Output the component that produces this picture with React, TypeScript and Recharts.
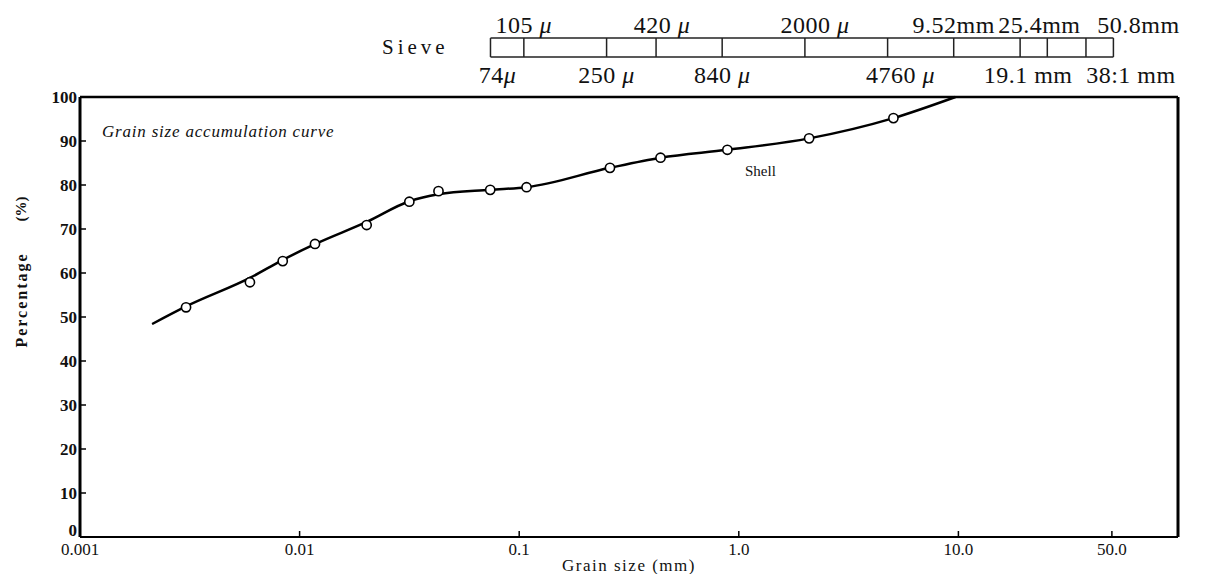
import React from 'react';
import { ComposedChart, Line, Scatter, XAxis, YAxis, ReferenceLine } from 'recharts';

const FONT = '"Liberation Serif", "DejaVu Serif", serif';

// fitted accumulation curve (grain size mm -> %)
const curveSize = [0.00213, 0.00304, 0.006, 0.0084, 0.0118, 0.0202, 0.0316, 0.0429, 0.0738, 0.108, 0.259, 0.44, 0.887, 2.09, 5.06, 9.7];
const curvePct = [48.4, 52.4, 59.0, 63.0, 66.6, 71.6, 76.3, 77.9, 78.9, 79.5, 83.9, 86.2, 88.0, 90.6, 95.2, 100];

// measured samples (open circles)
const sampleSize = [0.00304, 0.00594, 0.00838, 0.01175, 0.0202, 0.0316, 0.0429, 0.0738, 0.108, 0.259, 0.44, 0.887, 2.09, 5.06];
const samplePct = [52.2, 57.9, 62.7, 66.6, 70.9, 76.2, 78.6, 78.9, 79.5, 83.9, 86.2, 88.0, 90.6, 95.2];

const xTicks = [0.001, 0.01, 0.1, 1, 10, 50];
const xTickLabels = ['0.001', '0.01', '0.1', '1.0', '10.0', '50.0'];
const yTicks = [0, 10, 20, 30, 40, 50, 60, 70, 80, 90, 100];

// sieve openings in mm, labels alternate below / above the bar
const sieveSizes = [0.074, 0.105, 0.25, 0.42, 0.84, 2, 4.76, 9.52, 19.1, 25.4, 38.1, 50.8];
const sieveLabels = ['74μ', '105 μ', '250 μ', '420 μ', '840 μ', '2000 μ', '4760 μ', '9.52mm', '19.1 mm', '25.4mm', '38:1 mm', '50.8mm'];

const curveData = curveSize.map((s, i) => ({ size: s, pct: curvePct[i] }));
const sampleData = sampleSize.map((s, i) => ({ size: s, pct: samplePct[i] }));

// sieve bar sits above the plot, in % units of the y scale
const BAR_LOW = 109.1;
const BAR_HIGH = 113.4;
const labelNudge: Record<string, number> = {
  '74μ': 7, '420 μ': 6, '2000 μ': 10, '4760 μ': 13, '19.1 mm': 8, '25.4mm': -8, '38:1 mm': 45, '50.8mm': 25,
};

function SieveText({ text, x, y }: { text: string; x: number; y: number }) {
  const idx = text.indexOf('μ');
  return (
    <text x={x} y={y} textAnchor="middle" fontFamily={FONT} fontSize={24} fill="#111" letterSpacing={0.5}>
      {idx >= 0 ? (
        <>
          {text.slice(0, idx)}
          <tspan fontStyle="italic">μ</tspan>
        </>
      ) : text}
    </text>
  );
}

const sieveLabel = (text: string, top: boolean) => (props: any) => {
  const vb = props.viewBox || {};
  const x = (vb.x ?? 0) + (labelNudge[text] ?? 0);
  const y = top ? (vb.y ?? 0) - 5 : (vb.y ?? 0) + (vb.height ?? 0) + 26;
  return <SieveText text={text} x={x} y={y} />;
};

// y tick labels; the zero sits a little high so it clears 0.001 below it
const YTick = (p: any) => {
  const v = p.payload?.value;
  return (
    <text
      x={p.x}
      y={p.y + (v === 0 ? -7 : 0)}
      textAnchor="end"
      dominantBaseline="central"
      fontFamily={FONT}
      fontSize={17}
      fontWeight={700}
      fill="#111"
    >
      {v}
    </text>
  );
};

const yAxisTitle = (props: any) => {
  const vb = props.viewBox || {};
  const cx = (vb.x ?? 0) + 21;
  const top = vb.y ?? 0;
  return (
    <g fontFamily={FONT} fill="#111" fontWeight={700}>
      <text x={cx} y={top + 112} transform={`rotate(-90 ${cx} ${top + 112})`} textAnchor="middle" dominantBaseline="central" fontSize={15}>
        (%)
      </text>
      <text x={cx} y={top + 203} transform={`rotate(-90 ${cx} ${top + 203})`} textAnchor="middle" dominantBaseline="central" fontSize={16} letterSpacing={2}>
        Percentage
      </text>
    </g>
  );
};

const xAxisTitle = (props: any) => {
  const vb = props.viewBox || {};
  return (
    <text x={(vb.x ?? 0) + (vb.width ?? 0) / 2} y={(vb.y ?? 0) + 34} textAnchor="middle" fontFamily={FONT} fontSize={17} letterSpacing={1.5} fill="#111">
      Grain size (mm)
    </text>
  );
};

const OpenCircle = (p: any) => (
  <circle cx={p.cx} cy={p.cy} r={4.6} fill="#fff" stroke="#000" strokeWidth={1.6} />
);

export default function App() {
  return (
    <div style={{ position: 'absolute', left: 0, top: 0, width: 1205, height: 574, background: '#fff', fontFamily: FONT }}>
      <ComposedChart width={1205} height={574} margin={{ top: 97, right: 27, bottom: 0, left: 0 }}>
        <XAxis
          dataKey="size"
          type="number"
          scale="log"
          domain={[0.001, 100]}
          allowDataOverflow
          ticks={xTicks}
          interval={0}
          tickFormatter={(v: number) => xTickLabels[xTicks.indexOf(v)] ?? String(v)}
          height={37}
          axisLine={{ stroke: '#000', strokeWidth: 2 }}
          tickLine={{ stroke: '#000', strokeWidth: 1.5 }}
          tickSize={-6}
          tickMargin={12}
          tick={{ fill: '#111', fontSize: 17, fontFamily: FONT }}
          label={{ content: xAxisTitle }}
        />
        <YAxis
          type="number"
          domain={[0, 100]}
          ticks={yTicks}
          interval={0}
          width={80}
          axisLine={{ stroke: '#000', strokeWidth: 3 }}
          tickLine={{ stroke: '#000', strokeWidth: 1.5 }}
          tickSize={-6}
          tickMargin={9}
          tick={YTick}
          label={{ content: yAxisTitle }}
        />
        <ReferenceLine y={100} stroke="#000" strokeWidth={2.5} ifOverflow="visible" />
        <ReferenceLine x={100} stroke="#000" strokeWidth={3} ifOverflow="visible" />

        {/* sieve bar */}
        <ReferenceLine
          segment={[{ x: sieveSizes[0], y: BAR_HIGH }, { x: sieveSizes[sieveSizes.length - 1], y: BAR_HIGH }]}
          stroke="#222"
          strokeWidth={1.5}
          ifOverflow="visible"
        />
        <ReferenceLine
          segment={[{ x: sieveSizes[0], y: BAR_LOW }, { x: sieveSizes[sieveSizes.length - 1], y: BAR_LOW }]}
          stroke="#222"
          strokeWidth={1.5}
          ifOverflow="visible"
        />
        {sieveSizes.map((s, i) => (
          <ReferenceLine
            key={s}
            segment={[{ x: s, y: BAR_LOW }, { x: s, y: BAR_HIGH }]}
            stroke="#222"
            strokeWidth={1.5}
            ifOverflow="visible"
            label={{ content: sieveLabel(sieveLabels[i], i % 2 === 1) }}
          />
        ))}

        <Line
          data={curveData}
          dataKey="pct"
          type="monotone"
          stroke="#000"
          strokeWidth={2.5}
          dot={false}
          activeDot={false}
          isAnimationActive={false}
        />
        <Scatter data={sampleData} dataKey="pct" shape={OpenCircle} isAnimationActive={false} />
      </ComposedChart>

      <div style={{ position: 'absolute', left: 102, top: 123, fontSize: 17, lineHeight: 1, fontStyle: 'italic', letterSpacing: 0.8, color: '#111', whiteSpace: 'nowrap' }}>
        Grain size accumulation curve
      </div>
      <div style={{ position: 'absolute', left: 382, top: 37, fontSize: 21, lineHeight: 1, letterSpacing: 4, color: '#111' }}>
        Sieve
      </div>
      <div style={{ position: 'absolute', left: 745, top: 164, fontSize: 15, lineHeight: 1, color: '#111' }}>
        Shell
      </div>
    </div>
  );
}
